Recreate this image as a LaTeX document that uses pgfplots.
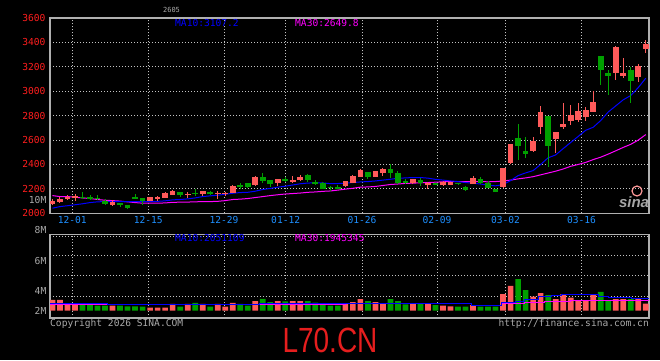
\documentclass[border=0pt]{standalone}
\usepackage{fontspec}
\setmainfont{DejaVu Sans Mono}
\newfontfamily\arialfont{Liberation Sans}
\usepackage{pgfplots}
\pgfplotsset{compat=1.18}
\usepackage{pgfplotstable}

\definecolor{cred}{RGB}{255,90,90}
\definecolor{cgreen}{RGB}{0,160,0}
\definecolor{cblue}{RGB}{0,0,255}
\definecolor{cmag}{RGB}{255,0,255}
\definecolor{cgrid}{RGB}{195,195,195}
\definecolor{cframe}{RGB}{176,176,176}
\definecolor{ctick}{RGB}{255,30,30}
\definecolor{cdate}{RGB}{30,144,255}
\definecolor{ctext}{RGB}{170,170,170}
\definecolor{cbig}{RGB}{230,30,30}
\newcommand\mf{\fontsize{9.6}{11}\selectfont}

% up (red) candles: index open high low close volume(M)
\pgfplotstableread{
i o h l c v
0 2074 2121 2066 2102 1.95
1 2094 2134 2088 2118 1.95
2 2115 2148 2113 2137 1.35
3 2132 2159 2104 2143 1.22
8 2066 2107 2061 2094 0.91
13 2102 2137 2099 2134 0.55
14 2118 2143 2102 2134 0.55
15 2126 2173 2124 2167 0.55
16 2154 2192 2151 2181 1.22
18 2154 2175 2126 2156 1.22
20 2159 2181 2143 2181 1.22
22 2162 2184 2115 2167 1.22
23 2159 2178 2143 2167 0.73
24 2170 2230 2167 2222 1.40
27 2233 2304 2227 2296 1.76
30 2246 2279 2225 2279 1.76
32 2255 2304 2246 2274 1.76
33 2271 2312 2266 2298 1.76
39 2225 2263 2219 2263 1.20
40 2246 2315 2246 2304 1.58
41 2301 2361 2298 2353 2.12
43 2298 2350 2296 2345 1.58
44 2334 2372 2309 2361 1.39
48 2246 2285 2238 2282 1.39
50 2230 2257 2203 2246 1.27
52 2235 2263 2225 2257 0.90
53 2235 2257 2230 2257 0.80
56 2238 2306 2238 2287 1.03
60 2212 2371 2208 2371 3.03
61 2412 2566 2404 2566 4.50
64 2512 2625 2506 2593 2.55
65 2706 2882 2652 2833 3.21
67 2612 2663 2493 2663 2.12
68 2706 2906 2687 2728 3.03
69 2755 2890 2720 2809 2.36
70 2768 2906 2752 2841 1.94
71 2787 2871 2755 2849 1.94
72 2828 3000 2828 2914 3.03
75 3150 3372 3090 3360 2.12
76 3125 3275 3105 3150 2.12
78 3119 3227 3079 3205 2.12
79 3343 3416 3314 3384 1.27
}\upT

% down (green) candles
\pgfplotstableread{
i o h l c v
4 2134 2173 2121 2126 1.22
5 2132 2148 2113 2121 1.04
6 2129 2148 2107 2121 0.91
7 2102 2118 2069 2074 0.91
9 2085 2085 2053 2072 0.91
10 2066 2066 2033 2047 0.80
11 2134 2156 2118 2118 0.80
12 2129 2129 2072 2102 0.73
17 2178 2178 2134 2151 0.73
19 2167 2197 2143 2159 1.40
21 2175 2184 2154 2159 0.73
25 2235 2246 2203 2216 1.22
26 2246 2246 2205 2214 0.91
28 2301 2328 2246 2266 2.13
29 2271 2271 2216 2238 1.58
31 2279 2301 2263 2266 1.70
34 2315 2326 2257 2271 1.76
35 2252 2276 2230 2246 1.45
36 2249 2260 2203 2203 1.22
37 2216 2225 2184 2211 0.91
38 2211 2235 2197 2208 0.91
42 2342 2342 2282 2301 1.76
45 2361 2402 2293 2328 2.12
46 2328 2350 2238 2246 1.76
47 2266 2279 2238 2246 1.15
49 2274 2287 2225 2246 1.27
51 2246 2252 2230 2238 1.03
54 2249 2252 2238 2244 0.73
55 2219 2227 2184 2192 0.73
57 2285 2296 2246 2252 0.73
58 2252 2263 2208 2208 0.73
59 2203 2203 2175 2175 0.73
62 2614 2728 2439 2552 5.76
63 2512 2625 2452 2487 3.76
66 2801 2801 2377 2552 2.85
73 3287 3287 3052 3173 3.40
74 3149 3170 2971 3127 1.94
77 3173 3197 2906 3087 2.12
}\dnT

% moving averages, main panel
\pgfplotstableread{
i ma10 ma30
0 2042 2145
1 2055 2137
2 2062 2137
3 2070 2132
4 2078 2126
5 2088 2121
6 2094 2113
7 2096 2107
8 2095 2104
9 2096 2100
10 2096 2094
11 2096 2088
12 2096 2083
13 2096 2083
14 2098 2083
15 2102 2085
16 2110 2090
17 2113 2091
18 2118 2092
19 2126 2094
20 2137 2096
21 2143 2096
22 2148 2098
23 2156 2104
24 2164 2113
25 2170 2116
26 2172 2121
27 2181 2129
28 2195 2137
29 2204 2145
30 2214 2152
31 2222 2158
32 2232 2162
33 2242 2166
34 2248 2172
35 2249 2175
36 2249 2180
37 2243 2183
38 2244 2190
39 2247 2198
40 2252 2205
41 2257 2214
42 2260 2216
43 2265 2220
44 2272 2228
45 2279 2236
46 2287 2240
47 2290 2245
48 2293 2247
49 2293 2250
50 2288 2252
51 2278 2255
52 2272 2258
53 2265 2260
54 2260 2260
55 2252 2260
56 2246 2260
57 2240 2260
58 2230 2258
59 2225 2260
60 2235 2265
61 2268 2272
62 2309 2282
63 2331 2290
64 2350 2300
65 2400 2315
66 2455 2330
67 2478 2345
68 2530 2363
69 2580 2385
70 2630 2400
71 2680 2417
72 2705 2440
73 2760 2460
74 2830 2485
75 2880 2512
76 2930 2540
77 2965 2565
78 3030 2600
79 3107 2645
}\maT

% volume moving averages (M)
\pgfplotstableread{
i m
-0.33 1.27
7.3 1.05
20 1.12
27.6 1.35
45.8 1.30
50.7 1.27
55.8 0.95
59.8 1.40
61.6 1.76
62.9 2.12
64.7 2.55
66.5 2.79
67.8 2.97
72.7 2.67
74.0 2.42
77.1 2.18
79.43 2.18
}\vmaA
\pgfplotstableread{
i m
-0.33 1.15
30 1.20
39 1.27
55.8 1.03
59.8 1.27
62.9 1.45
65.5 1.64
69 1.82
74.5 1.94
79.43 1.94
}\vmaB

\begin{document}
\begin{tikzpicture}[x=1pt,y=1pt]
\fill[black] (0,0) rectangle (660,360);
\useasboundingbox (0,0) rectangle (660,360);

\begin{axis}[
  at={(50pt,146.7pt)}, anchor=south west, scale only axis,
  width=599pt, height=195.3pt,
  xmin=-0.33, xmax=79.43, ymin=2000, ymax=3600,
  axis line style={cframe, line width=1.2pt},
  tick style={draw=none},
  xtick={2.64,12.76,22.84,31.05,41.21,51.2,60.32,70.44},
  xticklabels={12-01,12-15,12-29,01-12,01-26,02-09,03-02,03-16},
  ytick={2000,2200,2400,2600,2800,3000,3200,3400,3600},
  yticklabels={2000,2200,2400,2600,2800,3000,3200,3400,3600},
  grid=major,
  major grid style={cgrid, line width=0.8pt, dash pattern=on 1pt off 2pt},
  xticklabel style={cdate, font=\mf, inner sep=0pt, yshift=-3.2pt},
  yticklabel style={ctick, font=\mf, inner sep=0pt, xshift=-4.3pt},
]
\addplot[cmag, line width=1pt] table[x=i,y=ma30]{\maT};
\addplot[cblue, line width=1pt] table[x=i,y=ma10]{\maT};
% wicks
\addplot[draw=none, mark=none, error bars/.cd, y dir=both, y explicit, error mark=none,
  error bar style={draw=cred, line width=1pt}]
  table[x=i, y=c, y error plus expr=\thisrow{h}-\thisrow{c}, y error minus expr=\thisrow{c}-\thisrow{l}]{\upT};
\addplot[draw=none, mark=none, error bars/.cd, y dir=both, y explicit, error mark=none,
  error bar style={draw=cgreen, line width=1pt}]
  table[x=i, y=c, y error plus expr=\thisrow{h}-\thisrow{c}, y error minus expr=\thisrow{c}-\thisrow{l}]{\dnT};
% bodies
\addplot[draw=none, mark=none, error bars/.cd, y dir=both, y explicit, error mark=none,
  error bar style={draw=cred, line width=5.7pt}]
  table[x=i, y expr=(\thisrow{o}+\thisrow{c})/2, y error expr={max(abs(\thisrow{c}-\thisrow{o})/2,4)}]{\upT};
\addplot[draw=none, mark=none, error bars/.cd, y dir=both, y explicit, error mark=none,
  error bar style={draw=cgreen, line width=5.7pt}]
  table[x=i, y expr=(\thisrow{o}+\thisrow{c})/2, y error expr={max(abs(\thisrow{c}-\thisrow{o})/2,4)}]{\dnT};
\end{axis}

\begin{axis}[
  at={(50pt,42pt)}, anchor=south west, scale only axis,
  width=599pt, height=83.7pt,
  xmin=-0.33, xmax=79.43, ymin=-1.33, ymax=13.89,
  axis line style={cframe, line width=1.2pt},
  tick style={draw=none},
  xtick={2.64,12.76,22.84,31.05,41.21,51.2,60.32,70.44},
  xticklabels={{},{},{},{},{},{},{},{}},
  ytick={2.67,6.49,10.13,13.6},
  yticklabels={{},{},{},{}},
  ticklabel style={inner sep=0pt},
  grid=major,
  major grid style={cgrid, line width=0.8pt, dash pattern=on 1pt off 2pt},
]
\addplot[ybar, bar width=5.7pt, bar shift=0pt, fill=cred, draw=none] table[x=i,y=v]{\upT};
\addplot[ybar, bar width=5.7pt, bar shift=0pt, fill=cgreen, draw=none] table[x=i,y=v]{\dnT};
\addplot[const plot, cmag, line width=1pt] table[x=i,y=m]{\vmaB};
\addplot[const plot, cblue, line width=1pt] table[x=i,y=m]{\vmaA};
\end{axis}

% texts
\node[ctext, font=\fontsize{7}{8}\selectfont, inner sep=0pt] at (171.5,350.5) {2605};
\node[cblue, font=\mf, inner sep=0pt, anchor=west] at (175,336.7) {MA10:3107.2};
\node[cmag, font=\mf, inner sep=0pt, anchor=west] at (295,336.7) {MA30:2649.8};
\node[ctext, font=\mf, inner sep=0pt, anchor=east] at (46.5,160) {10M};
\node[ctext, font=\mf, inner sep=0pt, anchor=east] at (46.5,129.5) {8M};
\node[ctext, font=\mf, inner sep=0pt, anchor=east] at (46.5,99.5) {6M};
\node[ctext, font=\mf, inner sep=0pt, anchor=east] at (46.5,69.5) {4M};
\node[ctext, font=\mf, inner sep=0pt, anchor=east] at (46.5,49) {2M};
\node[cblue, font=\mf, inner sep=0pt, anchor=west] at (175,121.7) {MA10:2051109};
\node[cmag, font=\mf, inner sep=0pt, anchor=west] at (295,121.7) {MA30:1945345};
\node[ctext, font=\mf, inner sep=0pt, anchor=west] at (50,36) {Copyright 2026 SINA.COM};
\node[ctext, font=\mf, inner sep=0pt, anchor=east] at (649,36) {http://finance.sina.com.cn};
\node[cbig, font=\arialfont\fontsize{28}{28}\selectfont, inner sep=0pt] at (330,20) {\scalebox{1}[1.25]{L70.CN}};
\draw[red!40!white, line width=1.2pt] (637,169) circle (5);
\node[gray!70!white, font=\arialfont\bfseries\itshape\fontsize{15}{15}\selectfont, inner sep=0pt] at (634,158) {sina};
\end{tikzpicture}
\end{document}
